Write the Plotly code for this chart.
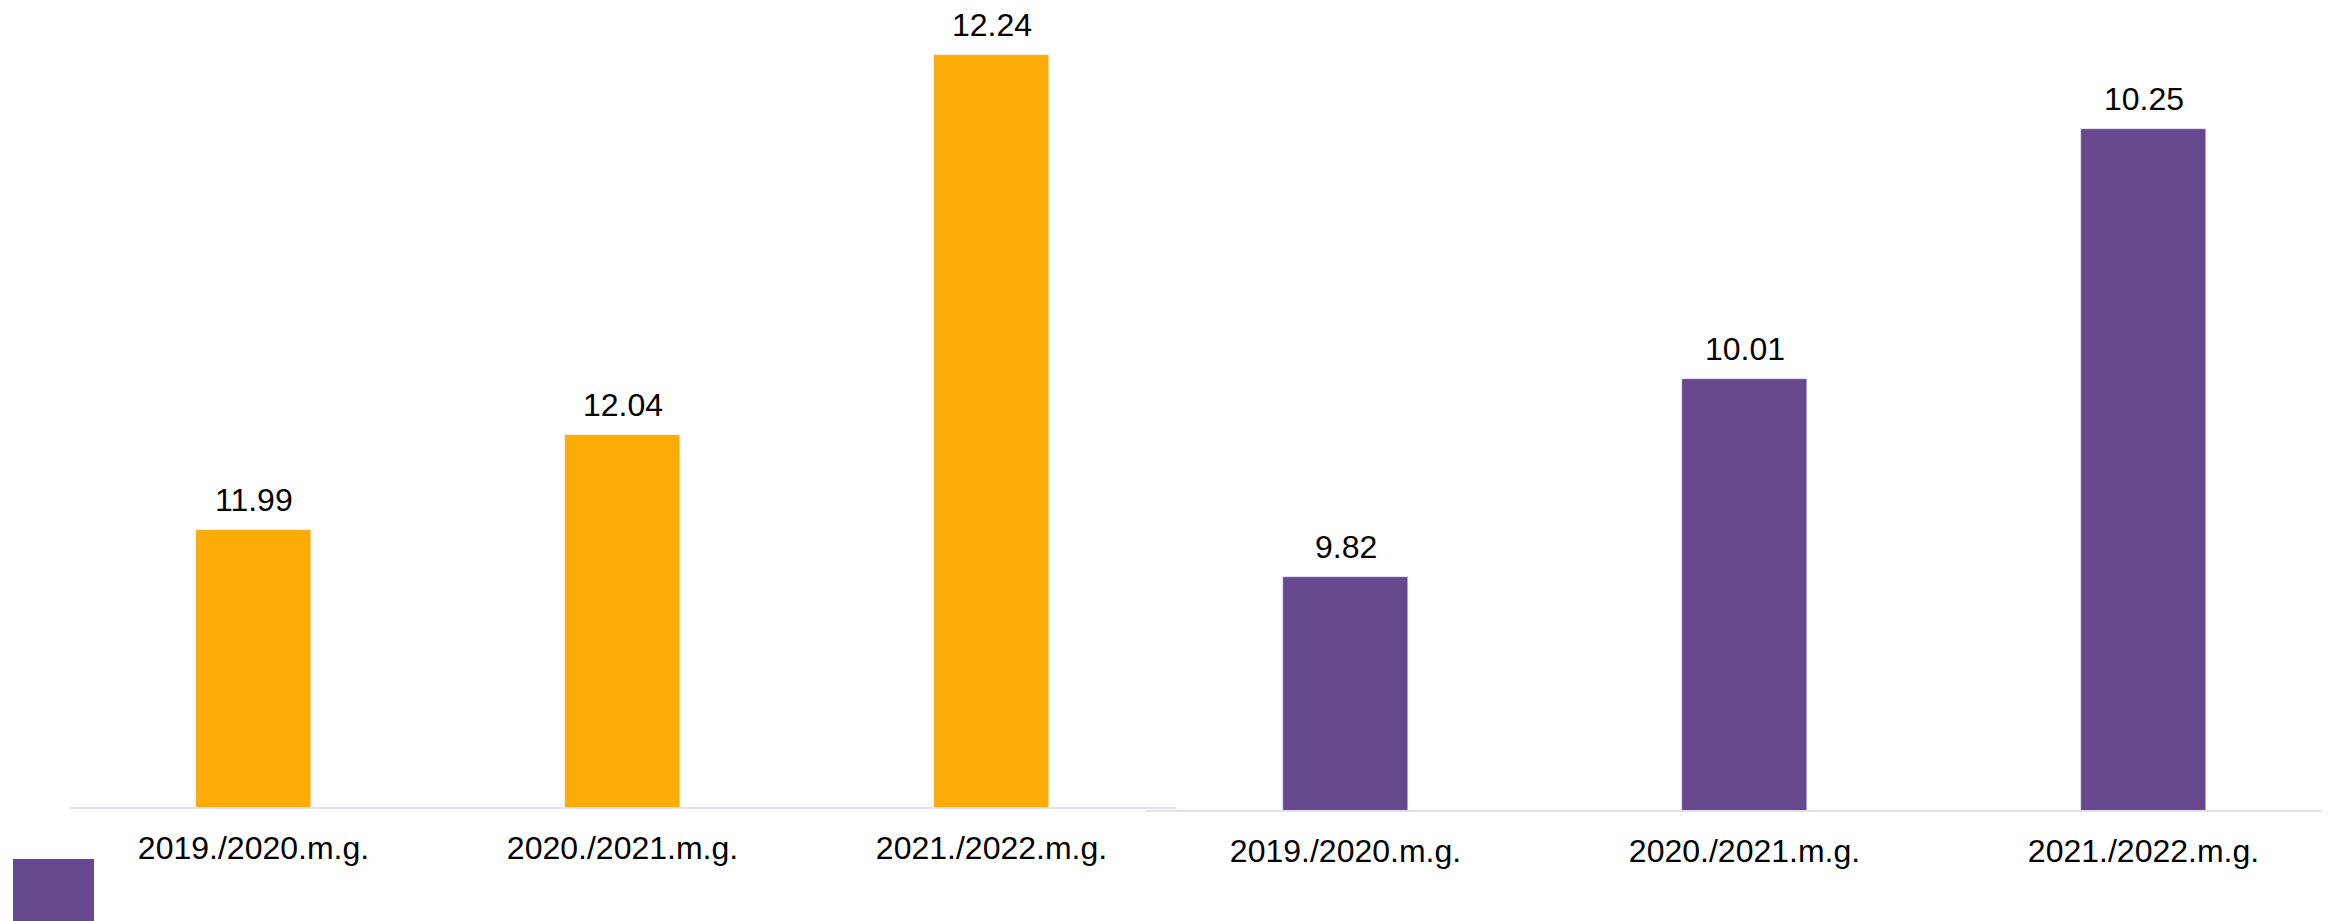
import plotly.graph_objects as go

categories = ["2019./2020.m.g.", "2020./2021.m.g.", "2021./2022.m.g."]
left_values = [11.99, 12.04, 12.24]
right_values = [9.82, 10.01, 10.25]
left_labels = ["11.99", "12.04", "12.24"]
right_labels = ["9.82", "10.01", "10.25"]

ORANGE = "#FCAC06"
PURPLE = "#67478E"
FONT = "Liberation Sans, Arial, sans-serif"
W, H = 2330, 921
OFF = 8  # page body margin


def px(x):
    return (x - OFF) / W


def py(y):
    return (H - (y - OFF)) / H


fig = go.Figure()
fig.add_trace(go.Bar(x=categories, y=left_values, marker_color=ORANGE, width=0.313,
                     xaxis="x", yaxis="y", showlegend=False, hoverinfo="skip"))
fig.add_trace(go.Bar(x=categories, y=right_values, marker_color=PURPLE, width=0.313,
                     xaxis="x2", yaxis="y2", showlegend=False, hoverinfo="skip"))

for cat, v, t in zip(categories, left_values, left_labels):
    fig.add_annotation(x=cat, y=v, xref="x", yref="y", text=t, showarrow=False,
                       yanchor="bottom", yshift=10, font=dict(size=32, color="black", family=FONT))
for cat, v, t in zip(categories, right_values, right_labels):
    fig.add_annotation(x=cat, y=v, xref="x2", yref="y2", text=t, showarrow=False,
                       yanchor="bottom", yshift=10, font=dict(size=32, color="black", family=FONT))

axis_common = dict(showgrid=False, zeroline=False, showline=True, linecolor="#E4E0EA", linewidth=2,
                   ticks="outside", ticklen=12, tickcolor="rgba(0,0,0,0)",
                   tickfont=dict(size=32, color="black", family=FONT), fixedrange=True)

left_h = 807 - OFF
right_h = 810 - OFF
fig.update_layout(
    width=W, height=H,
    margin=dict(l=0, r=0, t=0, b=0),
    paper_bgcolor="white", plot_bgcolor="rgba(0,0,0,0)",
    xaxis=dict(domain=[px(69), px(1176)], range=[-0.5, 2.5], anchor="y", **axis_common),
    yaxis=dict(domain=[py(807), 1], range=[11.844, 11.844 + left_h / 1900], visible=False, anchor="x"),
    xaxis2=dict(domain=[px(1146), 1], range=[-0.5, -0.5 + (W - (1146 - OFF)) / 399], anchor="y2", **axis_common),
    yaxis2=dict(domain=[py(810), 1], range=[9.5962, 9.5962 + right_h / 1041], visible=False, anchor="x2"),
    bargap=0,
)

# legend marker (purple square) at bottom left
fig.add_shape(type="rect", xref="paper", yref="paper",
              x0=px(13), x1=px(94), y0=py(921), y1=py(859),
              fillcolor=PURPLE, line_width=0, layer="above")

fig.write_html("out.html")
